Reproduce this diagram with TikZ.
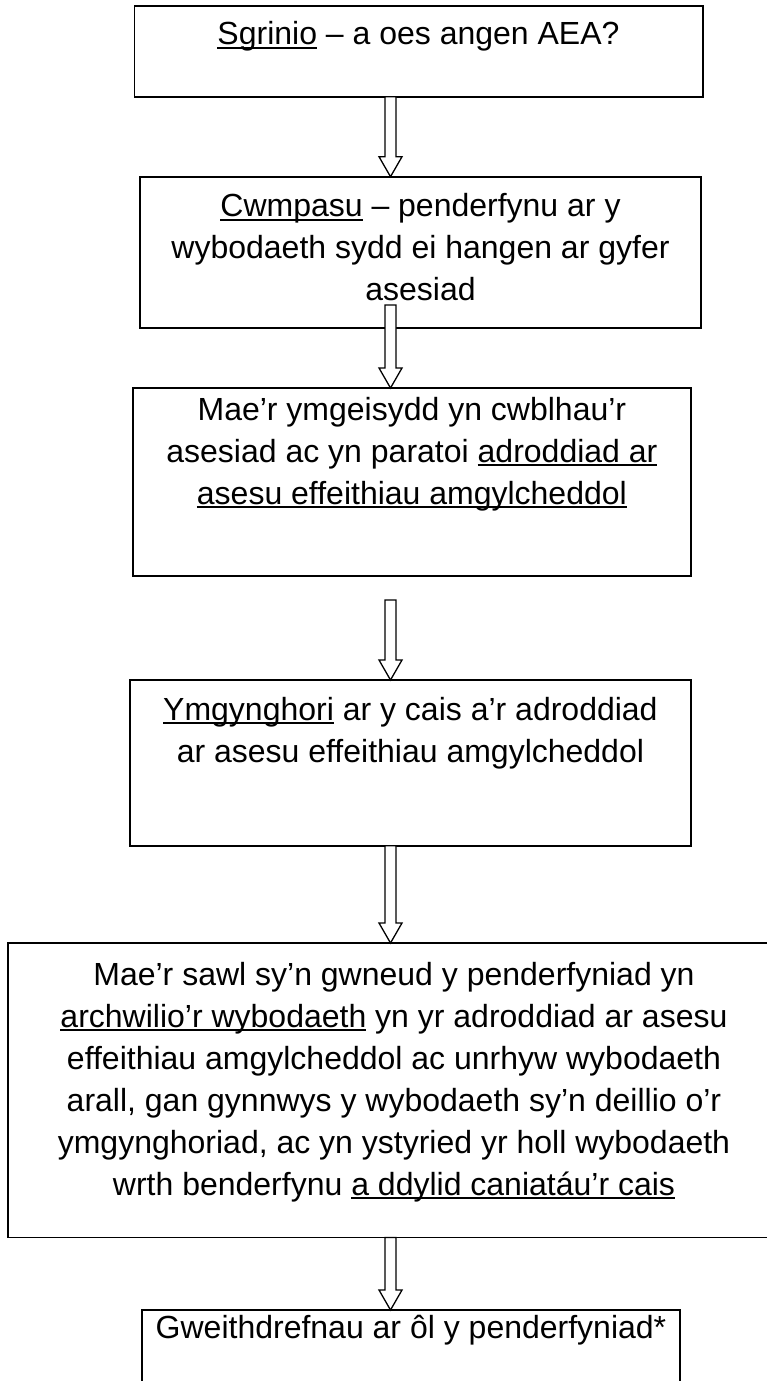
\documentclass[tikz,border=0pt]{standalone}
\usepackage{fontspec}
\setmainfont{Liberation Sans}
\usetikzlibrary{calc}
\newcommand\myul[1]{\setbox0\hbox{#1}\rlap{\rule[-4.2pt]{\wd0}{2.2pt}}\box0\relax}
\newcommand\mylines[1]{\begin{tabular}[t]{@{}c@{}}#1\end{tabular}}
\newcommand\barrow[2]{\draw[barr] let \p1=#1, \p2=#2 in
  (\x1-5.5pt,\y1) -- (\x1-5.5pt,\y2+20pt) -- (\x1-11.5pt,\y2+20pt) -- (\x1,\y2)
  -- (\x1+11.5pt,\y2+20pt) -- (\x1+5.5pt,\y2+20pt) -- (\x1+5.5pt,\y1) -- cycle;}
\tikzset{
  box/.style={draw, line width=1.6pt, inner sep=0pt, outer sep=0pt},
  txt/.style={font=\fontsize{32}{42}\selectfont, inner sep=0pt, anchor=base},
  barr/.style={draw, fill=white, line width=1.3pt, line join=miter}
}
\begin{document}
\begin{tikzpicture}[x=1pt,y=1pt]
\useasboundingbox (0,0) rectangle (766,-1381);
\fill[white] (0,0) rectangle (766,-1381);
\coordinate (ax) at (390.5,0);
% boxes
\node[box, minimum width=568.4pt, minimum height=90.7pt] (b1) at (418.5,-51.35) {};
\node[box, minimum width=561pt, minimum height=151pt] (b2) at (420.5,-252.2) {};
\node[box, minimum width=558pt, minimum height=188pt] (b3) at (411.9,-482) {};
\node[box, minimum width=560.7pt, minimum height=165.7pt] (b4) at (410.4,-762.85) {};
\node[box, minimum width=772pt, minimum height=294.5pt] (b5) at (394,-1090.25) {};
\node[box, minimum width=538pt, minimum height=90pt] (b6) at (411,-1355) {};
% texts
\node[txt] (t1) at (418.5,-45) {\myul{Sgrinio} – a oes angen AEA?};
\node[txt] (t2) at (420.5,-216.7) {\mylines{\myul{Cwmpasu} – penderfynu ar y\\wybodaeth sydd ei hangen ar gyfer\\asesiad}};
\node[txt] (t3) at (411.9,-420) {\mylines{Mae’r ymgeisydd yn cwblhau’r\\asesiad ac yn paratoi \myul{adroddiad ar}\\\myul{asesu effeithiau amgylcheddol}}};
\node[txt] (t4) at (410.4,-720) {\mylines{\myul{Ymgynghori} ar y cais a’r adroddiad\\ar asesu effeithiau amgylcheddol}};
\node[txt] (t5) at (394,-985) {\mylines{Mae’r sawl sy’n gwneud y penderfyniad yn\\\myul{archwilio’r wybodaeth} yn yr adroddiad ar asesu\\effeithiau amgylcheddol ac unrhyw wybodaeth\\arall, gan gynnwys y wybodaeth sy’n deillio o’r\\ymgynghoriad, ac yn ystyried yr holl wybodaeth\\wrth benderfynu \myul{a ddylid caniatáu’r cais}}};
\node[txt] (t6) at (411,-1338) {Gweithdrefnau ar ôl y penderfyniad*};
% arrows
\barrow{(ax |- b1.south)}{(ax |- b2.north)}
\barrow{($(ax |- b2.south)+(0,22.7)$)}{(ax |- b3.north)}
\barrow{($(ax |- b3.south)+(0,-24)$)}{(ax |- b4.north)}
\barrow{(ax |- b4.south)}{(ax |- b5.north)}
\barrow{(ax |- b5.south)}{(ax |- b6.north)}
\end{tikzpicture}
\end{document}
